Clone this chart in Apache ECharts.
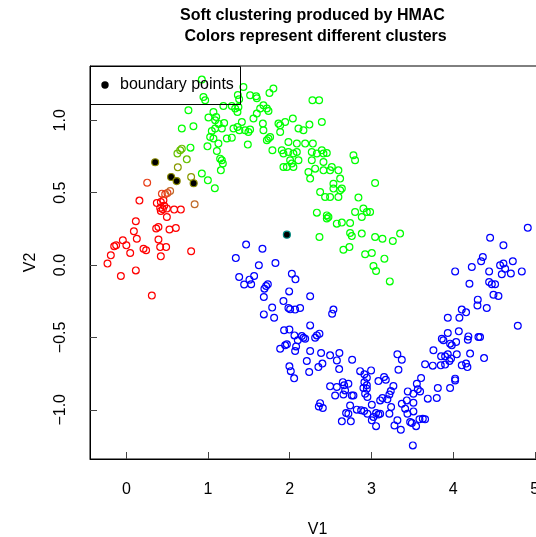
<!DOCTYPE html>
<html>
<head>
<meta charset="utf-8">
<script src="https://cdn.jsdelivr.net/npm/echarts@6/dist/echarts.min.js"></script>
<style>
html,body{margin:0;padding:0;background:#fff;}
#chart{width:536px;height:537px;}
</style>
</head>
<body>
<div id="chart"></div>
<script>
// ---- tick values ----
var xTicks = [0, 1, 2, 3, 4, 5];
var yTicks = [-1.0, -0.5, 0.0, 0.5, 1.0];

// ---- cluster points [V1, V2] ----
var redPts = [
[0.16,0.445],[0.373,0.428],[0.422,0.435],[0.454,0.447],[0.463,0.41],[0.414,0.394],[0.447,0.385],
[0.496,0.39],[0.422,0.373],[0.585,0.383],[0.667,0.383],[0.496,0.332],[0.116,0.302],[0.365,0.252],
[0.393,0.263],[0.528,0.245],[0.606,0.256],[0.092,0.233],[0.128,0.182],[-0.043,0.171],[0.0,0.136],
[-0.125,0.136],[-0.149,0.129],[0.047,0.083],[0.21,0.113],[0.242,0.102],[0.393,0.176],[0.414,0.124],
[0.487,0.124],[0.422,0.06],[0.793,0.095],[-0.19,0.067],[-0.231,0.01],[0.116,-0.037],[-0.067,-0.076],
[0.312,-0.211]
];
var orangePts = [[0.255,0.569],[0.435,0.493],[0.475,0.489],[0.503,0.498]];
var brownPts = [[0.536,0.511],[0.836,0.42]];
var olivePts = [[0.63,0.675],[0.793,0.608]];
var limePts = [[0.625,0.77],[0.659,0.793],[0.679,0.804],[0.74,0.73]];
var greenPts = [
[0.924,1.281],[1.433,1.23],[0.944,1.161],[0.965,1.138],[1.365,1.175],[1.381,1.145],[1.515,1.173],
[1.589,1.166],[1.597,1.152],[1.752,1.189],[1.80,1.219],[2.278,1.138],[2.36,1.138],[0.76,1.069],
[1.188,1.099],[1.291,1.099],[1.332,1.081],[1.372,1.092],[1.36,1.057],[1.066,1.057],[1.10,1.023],
[1.678,1.104],[1.72,1.081],[1.74,1.064],[1.638,1.081],[1.005,1.019],[1.087,1.0],[1.197,0.981],
[1.046,0.926],[1.087,0.943],[1.169,0.943],[1.13,0.975],[0.679,0.943],[0.821,0.959],[1.026,0.885],
[1.066,0.874],[1.23,0.874],[1.291,0.88],[1.311,0.943],[1.36,0.954],[1.384,0.931],[1.414,0.988],
[1.454,0.931],[1.494,0.919],[1.515,0.936],[1.487,0.832],[1.127,0.839],[0.993,0.82],[1.108,0.788],
[1.148,0.735],[1.169,0.724],[1.181,0.701],[1.157,0.654],[1.556,1.012],[1.597,1.046],[1.671,0.977],
[1.678,0.931],[1.72,0.862],[1.74,0.874],[1.76,0.885],[1.788,0.793],[1.862,0.977],[1.883,0.965],
[1.883,0.919],[1.944,0.988],[2.038,1.012],[1.984,0.85],[2.087,0.839],[2.107,0.943],[2.168,0.931],
[2.241,0.97],[2.393,0.988],[2.189,0.839],[2.283,0.839],[1.903,0.793],[1.923,0.77],[1.984,0.781],
[2.045,0.77],[2.087,0.781],[2.27,0.781],[2.332,0.77],[2.393,0.793],[2.413,0.77],[2.454,0.774],
[2.005,0.724],[2.026,0.701],[2.045,0.677],[1.965,0.677],[1.923,0.677],[2.107,0.724],[2.27,0.724],
[2.311,0.666],[2.229,0.643],[2.25,0.597],[2.413,0.712],[2.413,0.654],[2.494,0.654],[2.515,0.677],
[2.596,0.654],[2.617,0.597],[2.372,0.504],[2.433,0.47],[2.494,0.47],[2.535,0.528],[2.535,0.562],
[2.596,0.47],[2.617,0.516],[2.638,0.528],[2.78,0.758],[2.80,0.724],[3.045,0.567],[2.841,0.466],
[2.332,0.362],[2.454,0.343],[2.474,0.332],[2.454,0.321],[2.576,0.286],[2.638,0.293],[2.739,0.29],
[2.80,0.366],[2.882,0.332],[2.902,0.39],[2.944,0.366],[2.984,0.366],[2.364,0.194],[2.657,0.106],
[2.731,0.124],[2.739,0.221],[2.76,0.2],[2.882,0.217],[2.923,0.074],[3.005,0.083],[3.045,0.194],
[3.135,0.182],[3.262,0.166],[3.351,0.217],[3.159,0.044],[3.025,-0.007],[3.057,-0.041],[3.225,-0.113],
[0.785,0.811],[0.924,0.632],[0.998,0.585],[1.083,0.53]
];
var bluePts = [
[1.466,0.141],[1.666,0.113],[1.34,0.048],[1.622,-0.002],[1.825,0.014],[1.381,-0.083],[1.442,-0.135],
[1.507,-0.101],[1.528,-0.133],[1.564,-0.076],[2.026,-0.06],[2.07,-0.099],[1.711,-0.145],[1.732,-0.133],
[1.69,-0.163],[1.683,-0.221],[1.993,-0.182],[2.25,-0.216],[1.923,-0.249],[1.785,-0.294],[1.984,-0.297],
[2.005,-0.306],[2.066,-0.308],[2.127,-0.297],[1.683,-0.341],[1.809,-0.364],[2.535,-0.308],[2.519,-0.336],
[2.25,-0.417],[1.931,-0.451],[1.996,-0.446],[2.058,-0.486],[2.148,-0.491],[2.168,-0.502],[2.189,-0.509],
[2.311,-0.502],[2.332,-0.486],[2.364,-0.474],[2.099,-0.52],[2.078,-0.562],[1.944,-0.555],[1.965,-0.548],
[1.883,-0.578],[2.066,-0.594],[2.25,-0.594],[2.384,-0.608],[2.494,-0.624],[2.608,-0.608],[2.764,-0.654],
[2.577,-0.659],[2.209,-0.663],[2.40,-0.681],[2.351,-0.705],[1.996,-0.70],[2.013,-0.733],[2.054,-0.783],
[2.238,-0.739],[2.605,-0.719],[2.862,-0.733],[2.914,-0.755],[2.944,-0.778],[2.996,-0.728],[3.318,-0.617],
[3.372,-0.654],[3.331,-0.723],[3.086,-0.802],[3.155,-0.774],[3.176,-0.792],[3.269,-0.836],[3.237,-0.871],
[3.22,-0.894],[2.494,-0.838],[2.577,-0.843],[2.65,-0.809],[2.666,-0.831],[2.678,-0.866],[2.718,-0.82],
[2.657,-0.894],[2.76,-0.901],[2.78,-0.901],[2.556,-0.901],[2.914,-0.809],[2.944,-0.831],[2.944,-0.854],
[2.902,-0.85],[2.923,-0.889],[2.951,-0.912],[2.372,-0.954],[2.405,-0.988],[2.356,-0.977],[2.739,-0.97],
[2.718,-1.027],[2.69,-1.023],[2.821,-0.999],[2.874,-1.004],[2.911,-1.009],[2.951,-1.027],[3.005,-0.965],
[3.057,-1.023],[3.025,-1.05],[3.086,-1.032],[3.005,-1.073],[3.057,-1.113],[2.638,-1.08],[2.748,-1.08],
[3.135,-0.919],
[4.914,0.258],[4.453,0.189],[4.616,0.136],[4.364,0.055],[4.343,0.026],[4.229,-0.014],[4.025,-0.044],
[4.575,-0.002],[4.616,0.01],[4.637,-0.025],[4.731,0.026],[4.707,-0.059],[4.596,-0.064],[4.441,-0.044],
[4.841,-0.044],[4.20,-0.129],[4.441,-0.117],[4.474,-0.133],[4.514,-0.133],[4.494,-0.205],[4.555,-0.214],
[4.302,-0.239],[4.298,-0.279],[4.412,-0.297],[4.106,-0.308],[4.159,-0.327],[4.077,-0.364],[3.935,-0.364],
[4.792,-0.419],[3.935,-0.47],[3.862,-0.509],[3.881,-0.52],[3.963,-0.543],[3.984,-0.555],[4.037,-0.532],
[4.07,-0.458],[4.187,-0.493],[4.18,-0.516],[4.31,-0.498],[4.33,-0.498],[3.759,-0.589],[3.853,-0.631],
[3.902,-0.631],[3.935,-0.617],[4.045,-0.617],[4.208,-0.612],[4.379,-0.643],[3.657,-0.686],[3.751,-0.695],
[3.849,-0.693],[3.902,-0.688],[3.955,-0.663],[3.975,-0.645],[4.106,-0.693],[4.175,-0.705],[4.159,-0.681],
[4.025,-0.785],[4.025,-0.797],[3.963,-0.85],[3.813,-0.85],[3.80,-0.919],[3.69,-0.923],[3.608,-0.781],
[3.556,-0.82],[3.568,-0.859],[3.596,-0.873],[3.514,-0.889],[3.514,-0.951],[3.445,-0.873],[3.433,-0.935],
[3.196,-0.928],[3.107,-0.935],[3.241,-0.981],[3.22,-1.027],[3.372,-0.958],[3.413,-0.992],[3.441,-1.027],
[3.514,-1.011],[3.474,-1.085],[3.495,-1.092],[3.547,-1.113],[3.588,-1.066],[3.629,-1.062],[3.657,-1.066],
[3.318,-1.073],[3.282,-1.108],[3.36,-1.138],[3.507,-1.246],[3.107,-1.027]
];
// ---- boundary points ----
var boundaryRG = [[0.353,0.71],[0.548,0.608],[0.616,0.58],[0.824,0.565]];
var boundaryGB = [[1.965,0.21]];

var FONT = '"Liberation Sans", Arial, Helvetica, sans-serif';
var chart = echarts.init(document.getElementById('chart'), null, {renderer: 'canvas'});

function ringSeries(name, data, color) {
  return {
    name: name, type: 'scatter', data: data, symbol: 'circle', symbolSize: 6.8,
    itemStyle: {color: 'rgba(0,0,0,0)', borderColor: color, borderWidth: 1.2, opacity: 1},
    emphasis: {disabled: true}, silent: true
  };
}
function dotSeries(name, data, ring) {
  return {
    name: name, type: 'scatter', data: data, symbol: 'circle', symbolSize: 7,
    itemStyle: {color: '#000', borderColor: ring, borderWidth: 1.2, opacity: 1},
    emphasis: {disabled: true}, silent: true, z: 5
  };
}
function fmt(v) { return v.toFixed(1).replace('-', '\u2212'); }

chart.setOption({
  animation: false,
  backgroundColor: '#fff',
  textStyle: {fontFamily: FONT},
  grid: {left: 90, top: 66, width: 455, height: 393, show: true, borderColor: '#000', borderWidth: 1,
         backgroundColor: 'transparent', containLabel: false, outerBoundsMode: 'none'},
  xAxis: {
    type: 'value', min: -0.445, max: 5.125, position: 'bottom',
    name: 'V1', nameLocation: 'middle', nameGap: 63,
    nameTextStyle: {fontSize: 16, color: '#000', fontFamily: FONT},
    axisLine: {show: true, onZero: false, lineStyle: {color: '#000', width: 1}},
    axisTick: {show: true, inside: true, length: 7, customValues: xTicks, lineStyle: {color: '#444', width: 1}},
    axisLabel: {show: true, customValues: xTicks, margin: 23, fontSize: 16, color: '#000', fontFamily: FONT,
      formatter: function (v) { return String(v); }},
    splitLine: {show: false}
  },
  yAxis: {
    type: 'value', min: -1.34, max: 1.375, position: 'left',
    name: 'V2', nameLocation: 'middle', nameGap: 51, nameRotate: 90,
    nameTextStyle: {fontSize: 16, color: '#000', fontFamily: FONT},
    axisLine: {show: true, onZero: false, lineStyle: {color: '#000', width: 1}},
    axisTick: {show: true, inside: true, length: 7, customValues: yTicks, lineStyle: {color: '#444', width: 1}},
    axisLabel: {show: true, customValues: yTicks, margin: 21, rotate: 90, fontSize: 16, color: '#000', fontFamily: FONT,
      formatter: fmt},
    splitLine: {show: false}
  },
  graphic: [
    {type: 'text', left: 180, top: 8, silent: true,
     style: {text: 'Soft clustering produced by HMAC', font: 'bold 16px ' + FONT, fill: '#000'}},
    {type: 'text', left: 180, top: 29, silent: true,
     style: {text: ' Colors represent different clusters', font: 'bold 16px ' + FONT, fill: '#000'}},
    {type: 'rect', silent: true, z: 10,
     shape: {x: 90.5, y: 66.5, width: 150, height: 38},
     style: {fill: 'none', stroke: '#000', lineWidth: 1}},
    {type: 'circle', silent: true, z: 10,
     shape: {cx: 105, cy: 85, r: 3.7}, style: {fill: '#000'}},
    {type: 'text', x: 120, y: 85, silent: true, z: 10,
     style: {text: 'boundary points', font: '16px ' + FONT, fill: '#000', verticalAlign: 'middle', textVerticalAlign: 'middle'}}
  ],
  series: [
    ringSeries('red', redPts, '#FF0000'),
    ringSeries('orange', orangePts, '#E8401A'),
    ringSeries('brown', brownPts, '#C06A28'),
    ringSeries('olive', olivePts, '#8A9A00'),
    ringSeries('lime', limePts, '#66C000'),
    ringSeries('green', greenPts, '#00FF00'),
    ringSeries('blue', bluePts, '#0000FF'),
    dotSeries('boundary points', boundaryRG, '#8A8A00'),
    dotSeries('boundary GB', boundaryGB, '#008A80')
  ]
});
</script>
</body>
</html>
